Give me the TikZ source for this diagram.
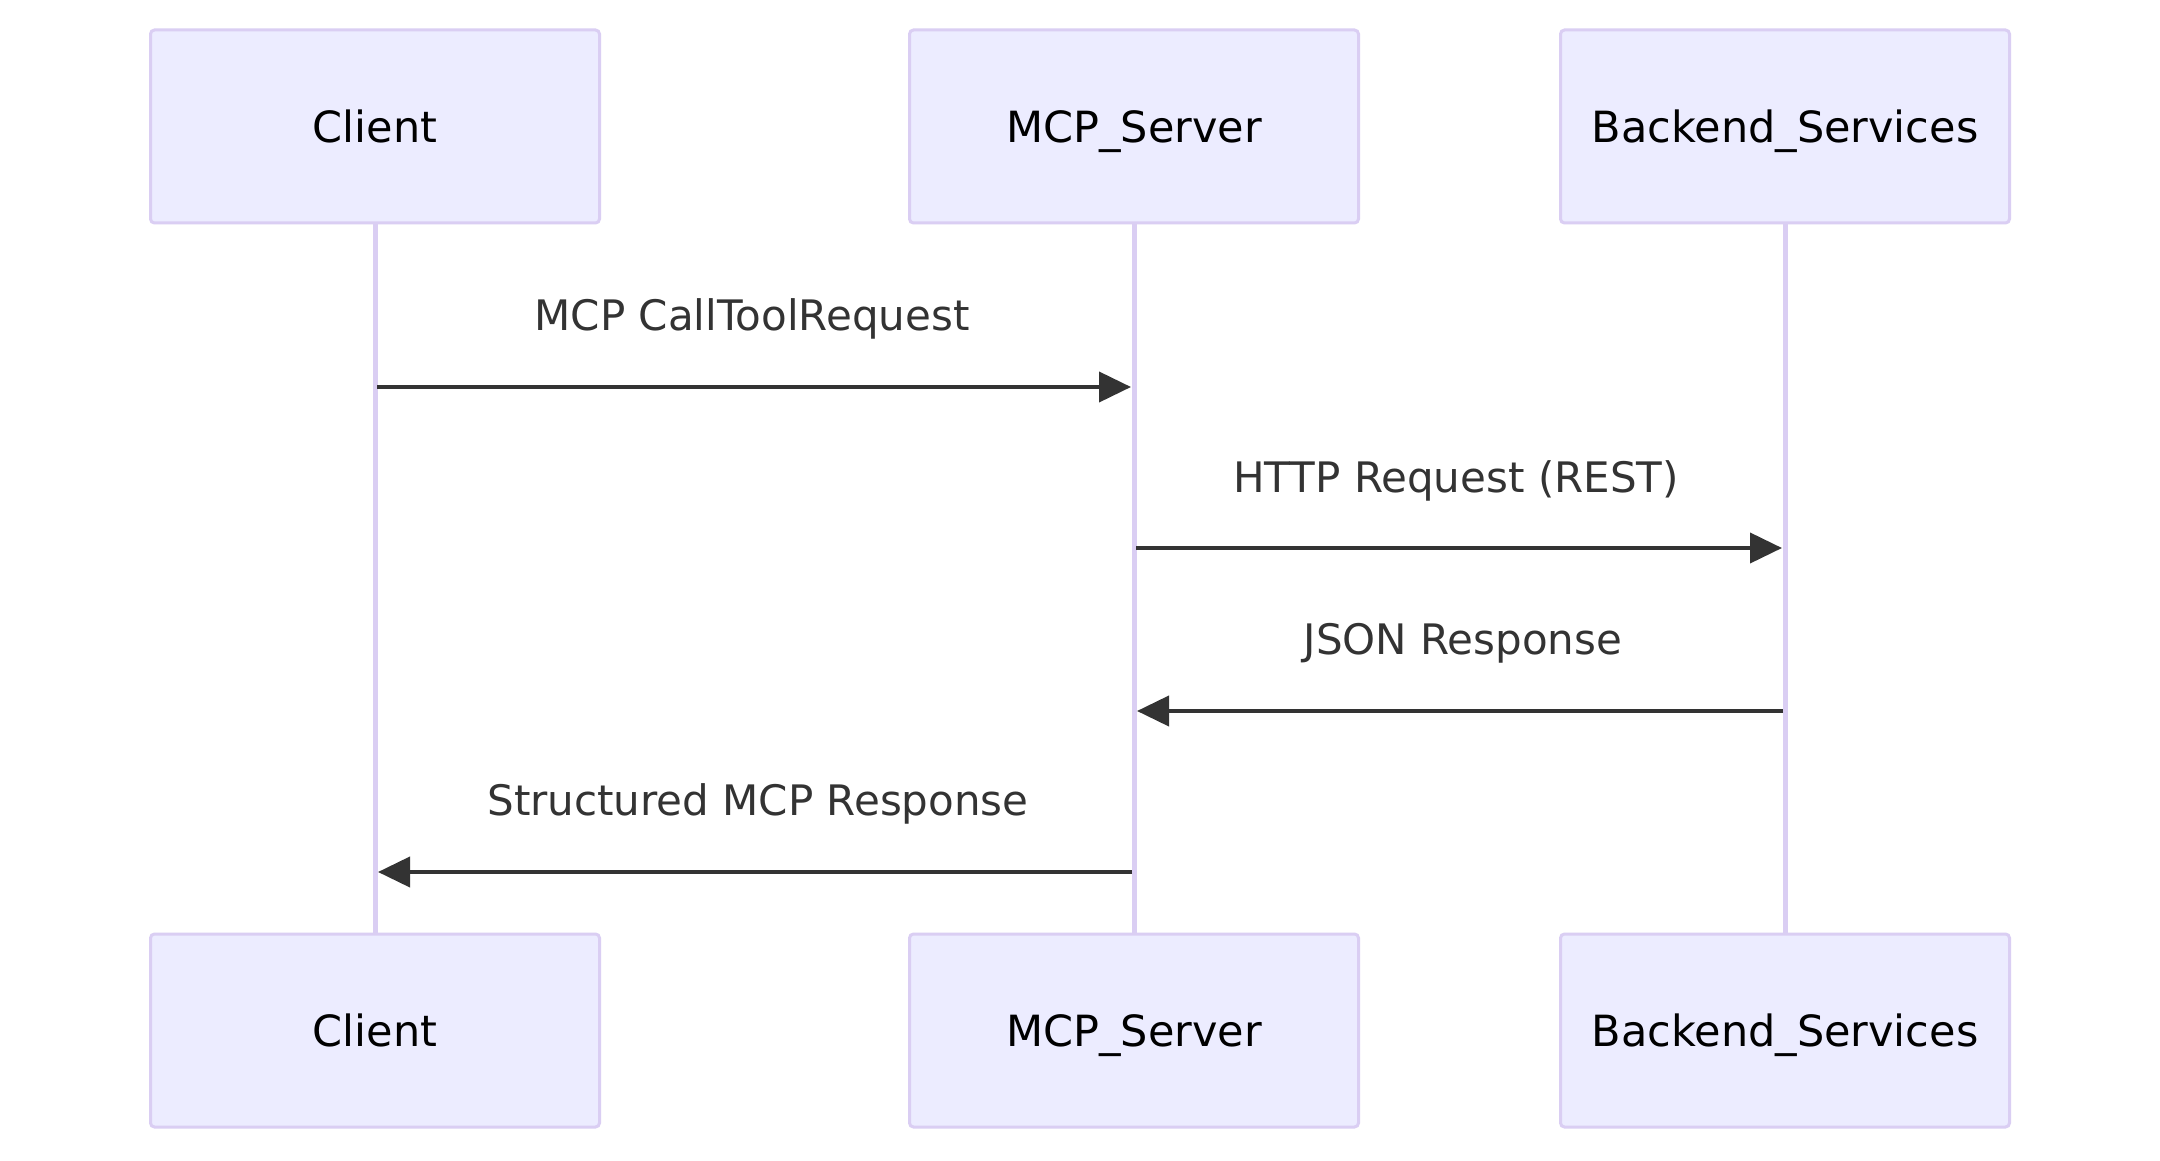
\documentclass[tikz,border=0pt]{standalone}
\usepackage{fontspec}
\setmainfont{DejaVu Sans}
\usetikzlibrary{arrows.meta}
\definecolor{actfill}{HTML}{ECECFF}
\definecolor{actline}{HTML}{DACEF3}
\definecolor{msgc}{HTML}{333333}
\tikzset{
  actor/.style={draw=actline, line width=1.5pt, fill=actfill, rounded corners=2pt,
    minimum width=224.5pt, minimum height=96.5pt, inner sep=0pt,
    text height=15.7pt, text depth=0pt,
    font=\fontsize{21.5}{26}\selectfont, text=black},
  life/.style={draw=actline, line width=2.5pt},
  msg/.style={draw=msgc, line width=2pt, -{Triangle[length=16pt,width=15pt]}, shorten <=1pt, shorten >=1.5pt},
  lbl/.style={font=\fontsize{21}{25}\selectfont, text=msgc, inner sep=0pt,
    text height=15.3pt, text depth=0pt}
}
\begin{document}
\begin{tikzpicture}[x=0.5pt,y=-0.5pt]
\useasboundingbox[fill=white] (0,0) rectangle (2160,1161);
% lifelines (behind boxes)
\draw[life] (375,223) -- (375,934);
\draw[life] (1134,223) -- (1134,934);
\draw[life] (1785,223) -- (1785,934);
% actors
\node[actor] (cT) at (375,126.5) {Client};
\node[actor] (sT) at (1134,126.5) {MCP\_Server};
\node[actor] (bT) at (1785,126.5) {Backend\_Services};
\node[actor] (cB) at (375,1030.5) {Client};
\node[actor] (sB) at (1134,1030.5) {MCP\_Server};
\node[actor] (bB) at (1785,1030.5) {Backend\_Services};
% messages
\draw[msg] (cT |- 0,387) -- (sT |- 0,387);
\node[lbl] (l1) at (752,315) {MCP CallToolRequest};
\draw[msg] (sT |- 0,548) -- (bT |- 0,548);
\node[lbl] (l2) at (1456,477) {HTTP Request (REST)};
\draw[msg] (bT |- 0,711) -- (sT |- 0,711);
\node[lbl] (l3) at (1463,639) {JSON Response};
\draw[msg] (sT |- 0,872) -- (cT |- 0,872);
\node[lbl] (l4) at (758,800) {Structured MCP Response};
\end{tikzpicture}
\end{document}
